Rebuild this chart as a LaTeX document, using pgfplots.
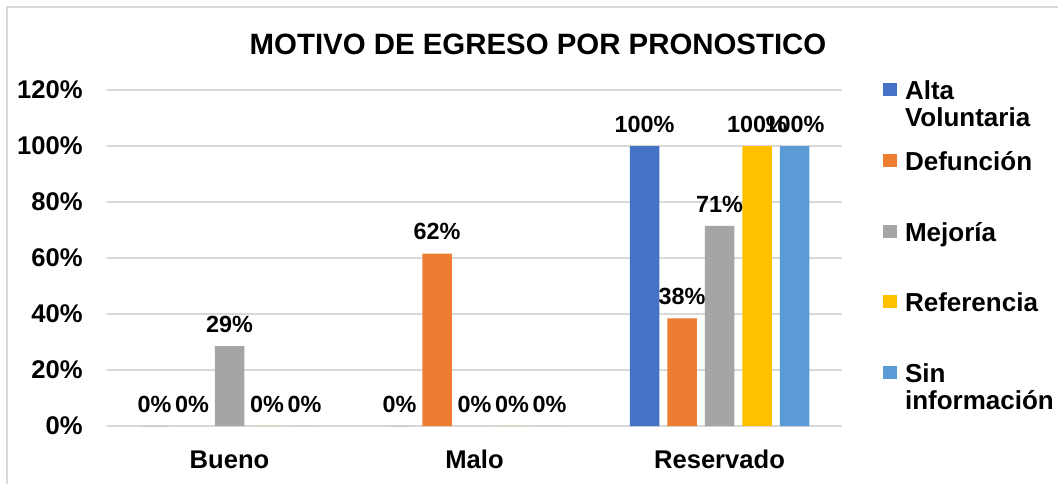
\documentclass[border=0pt]{standalone}
\usepackage{pgfplots}
\pgfplotsset{compat=1.18}
\usepackage{fontspec}
\setmainfont{Liberation Sans}
\definecolor{cA}{HTML}{4472C4}
\definecolor{cB}{HTML}{ED7D31}
\definecolor{cC}{HTML}{A5A5A5}
\definecolor{cD}{HTML}{FFC000}
\definecolor{cE}{HTML}{5B9BD5}
\definecolor{gridc}{HTML}{D9D9D9}
\begin{document}
\begin{tikzpicture}
\useasboundingbox (0,0) rectangle (529pt,241.5pt);
\draw[gridc, line width=0.8pt] (3.5pt,-5pt) -- (3.5pt,238pt) -- (540pt,238pt);
\node[anchor=base, inner sep=0pt, font=\fontsize{14.7}{17}\selectfont\bfseries] at (269pt,214pt) {MOTIVO DE EGRESO POR PRONOSTICO};
\begin{axis}[
  at={(53.5pt,28.5pt)}, anchor=south west,
  scale only axis, width=367.5pt, height=168pt,
  ybar=4pt, bar width=14.75pt,
  xmin=-0.5, xmax=2.5, ymin=0, ymax=120,
  xtick={0,1,2}, xticklabels={Bueno,Malo,Reservado},
  ytick={0,20,...,120},
  yticklabel={\pgfmathprintnumber{\tick}\%},
  /pgf/number format/assume math mode=true,
  axis line style={draw=none},
  major tick length=0pt,
  ymajorgrids, grid style={gridc, line width=0.75pt},
  tick label style={font=\fontsize{12.8}{15}\selectfont\bfseries, text=black},
  yticklabel style={anchor=east, inner sep=0pt, xshift=-12pt},
  xticklabel style={anchor=north, inner sep=0pt, yshift=-12pt},
  nodes near coords={\pgfmathprintnumber[fixed,precision=0]{\pgfplotspointmeta}\%},
  every node near coord/.append style={font=\fontsize{11.7}{14}\selectfont\bfseries, yshift=3.3pt, text=black},
  legend style={at={(1.0558,1.036)}, anchor=north west, draw=none, fill=none,
    inner sep=0pt, outer sep=0pt, row sep=7.3pt, column sep=4.2pt,
    font=\fontsize{13}{13.4}\selectfont\bfseries,
    nodes={inner sep=0pt, text height=11pt, text depth=17pt},
    row 1/.style={nodes={text depth=14.2pt}}},
  legend cell align=left,
  legend image code/.code={\fill[#1] (0pt,4.8pt) rectangle (6.8pt,11.3pt);},
]
\addplot[fill=cA, draw=none] coordinates {(0,0) (1,0) (2,100)};
\addlegendentry{\begin{tabular}[t]{@{}l@{}}Alta\\Voluntaria\end{tabular}}
\addplot[fill=cB, draw=none] coordinates {(0,0) (1,61.54) (2,38.46)};
\addlegendentry{Defunción}
\addplot[fill=cC, draw=none] coordinates {(0,28.57) (1,0) (2,71.43)};
\addlegendentry{Mejoría}
\addplot[fill=cD, draw=none] coordinates {(0,0) (1,0) (2,100)};
\addlegendentry{Referencia}
\addplot[fill=cE, draw=none] coordinates {(0,0) (1,0) (2,100)};
\addlegendentry{\begin{tabular}[t]{@{}l@{}}Sin\\información\end{tabular}}
\end{axis}
\end{tikzpicture}
\end{document}
